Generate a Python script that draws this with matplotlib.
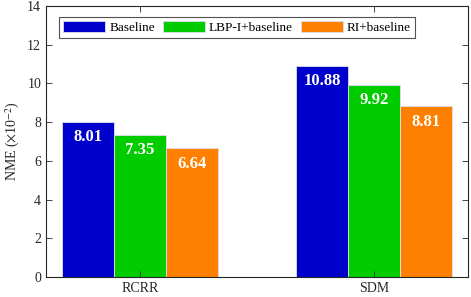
import numpy as np
import matplotlib.pyplot as plt

plt.rcParams['font.family'] = ['Liberation Serif', 'DejaVu Serif']
plt.rcParams['mathtext.fontset'] = 'stix'

methods = ['RCRR', 'SDM']
series = ['Baseline', 'LBP-I+baseline', 'RI+baseline']
baseline = [8.01, 10.88]
lbp = [7.35, 9.92]
ri = [6.64, 8.81]
colors = ['#0000CC', '#00CC00', '#FF8000']

fig = plt.figure(figsize=(4.71, 2.97), dpi=100)
ax = fig.add_axes([46 / 471, 1 - 277 / 297, 422 / 471, 271 / 297])

x = np.arange(1, len(methods) + 1)
w = 0.222
for i, (vals, name) in enumerate(zip([baseline, lbp, ri], series)):
    pos = x + (i - 1) * w
    ax.bar(pos, vals, w, color=colors[i], edgecolor='#dde0f0', linewidth=0.6, label=name)
    for p, v in zip(pos, vals):
        ax.text(p, v - 0.78, '%.2f' % v, ha='center', va='center', color='white',
                fontsize=12, fontweight='bold')

ax.set_xlim(0.6, 2.4)
ax.set_ylim(0, 14)
ax.set_xticks(x)
ax.set_xticklabels(methods)
ax.set_yticks(range(0, 15, 2))
ax.tick_params(direction='in', top=True, right=True, labelsize=10, colors='#262626',
               length=4, width=0.6)
for s in ax.spines.values():
    s.set_linewidth(0.8)
    s.set_color('#262626')
ax.set_ylabel(r'NME ($\times$10$^{-2}$)', fontsize=10, color='#262626')

leg = ax.legend(loc='upper left', bbox_to_anchor=(13 / 422, 1 - 11 / 271), ncol=3,
                fontsize=9.5, frameon=True, fancybox=False, edgecolor='#262626',
                handlelength=3.2, handleheight=0.95, columnspacing=0.6,
                handletextpad=0.3, borderpad=0.3, borderaxespad=0)
leg.get_frame().set_linewidth(0.8)

fig.savefig('out.png', dpi=100)
